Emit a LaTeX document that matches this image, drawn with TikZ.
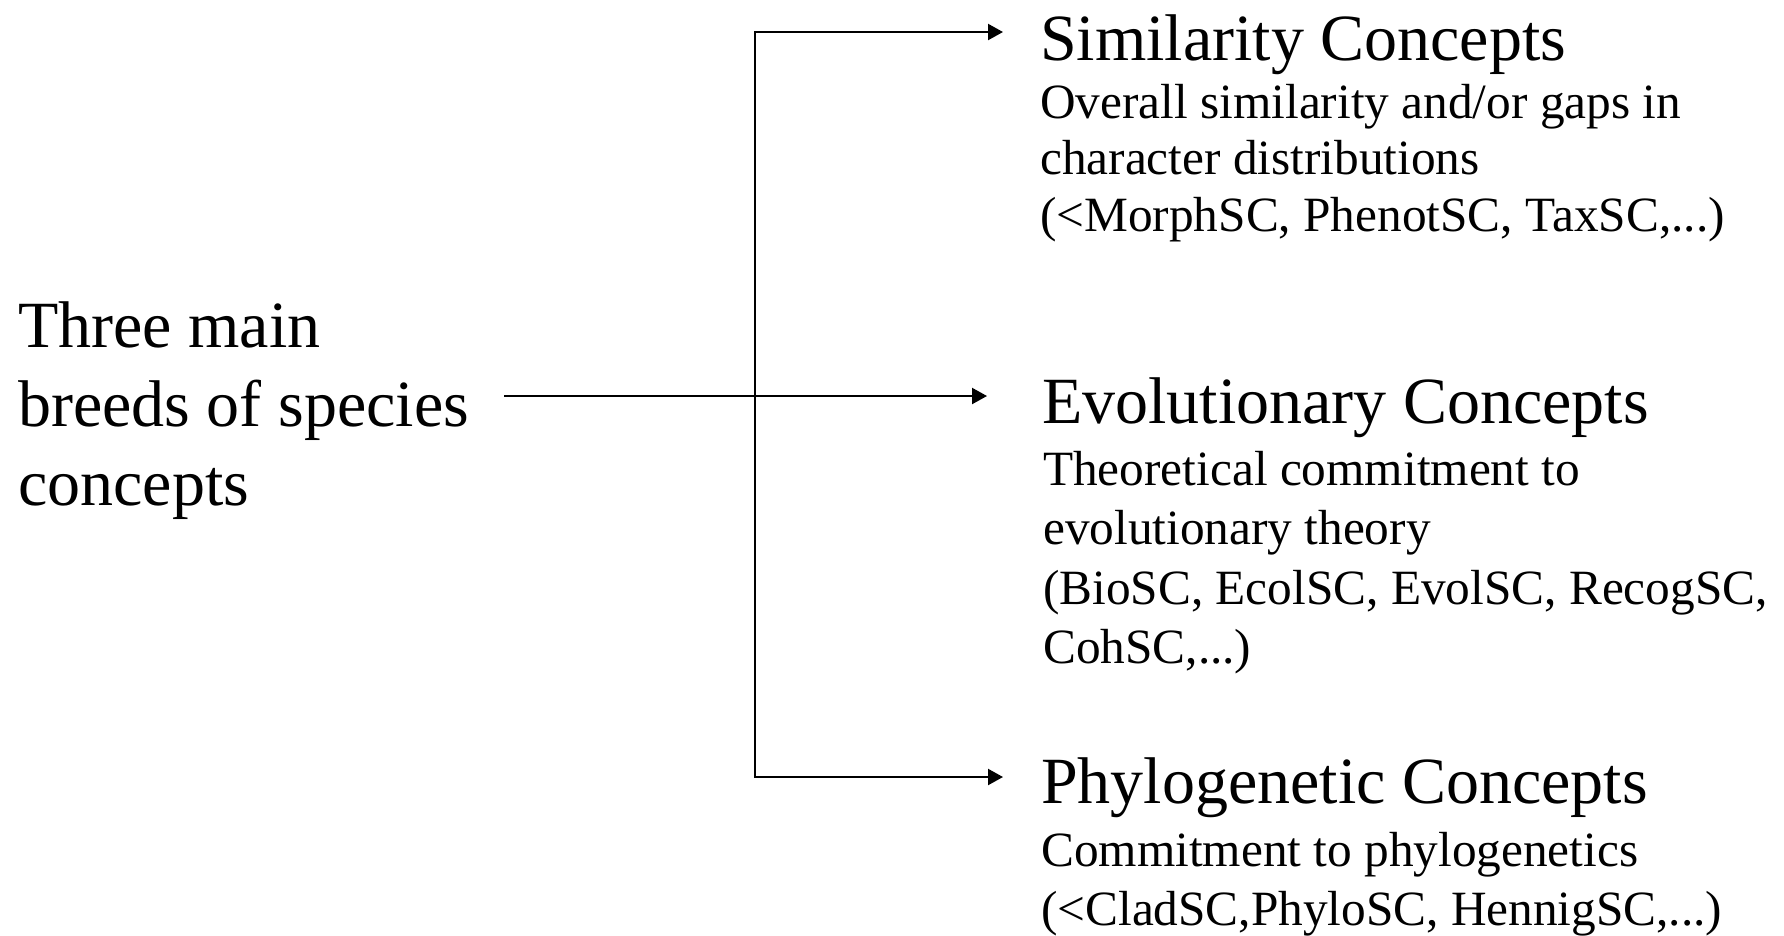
\documentclass[tikz,border=0pt]{standalone}
\usepackage{fontspec}
\setmainfont{Liberation Serif}
\usetikzlibrary{arrows.meta}
\begin{document}
\begin{tikzpicture}[x=1pt,y=-1pt,
  conn/.style={line width=2.2pt},
  tip/.tip={Triangle[length=15pt,width=16pt]},
  headtxt/.style={inner sep=0pt,anchor=base west,font=\fontsize{66}{79}\selectfont},
  subtxt/.style={inner sep=0pt,anchor=base west},
]
\useasboundingbox (0,0) rectangle (1784,935);
% left text
\node[headtxt] (root) at (18,347) {\begin{tabular}[t]{@{}l@{}}Three main\\breeds of species\\concepts\end{tabular}};
% similarity
\node[headtxt, outer xsep=37pt] (sim) at (1003,60) {Similarity Concepts};
\node[subtxt, font=\fontsize{49.3}{56.5}\selectfont] (simd) at (1040,118)
  {\begin{tabular}[t]{@{}l@{}}Overall similarity and/or gaps in\\character distributions\\(<MorphSC, PhenotSC, TaxSC,...)\end{tabular}};
% evolutionary
\node[headtxt, outer xsep=55pt] (evo) at (987,423) {Evolutionary Concepts};
\node[subtxt, font=\fontsize{49.3}{59.5}\selectfont] (evod) at (1043,485)
  {\begin{tabular}[t]{@{}l@{}}Theoretical commitment to\\evolutionary theory\\(BioSC, EcolSC, EvolSC, RecogSC,\\CohSC,...)\end{tabular}};
% phylogenetic
\node[headtxt, outer xsep=38pt] (phy) at (1003,803) {Phylogenetic Concepts};
\node[subtxt, font=\fontsize{49.3}{59}\selectfont] (phyd) at (1041,866)
  {\begin{tabular}[t]{@{}l@{}}Commitment to phylogenetics\\(<CladSC,PhyloSC, HennigSC,...)\end{tabular}};
% connectors
\coordinate (start) at (504,396);
\coordinate (vtop) at (755,32);
\coordinate (vbot) at (755,777);
\draw[conn, tip-tip] (vbot -| phy.west) -- (vbot) -- (vtop) -- (vtop -| sim.west);
\draw[conn, -tip] (start) -- (start -| evo.west);
\end{tikzpicture}
\end{document}
